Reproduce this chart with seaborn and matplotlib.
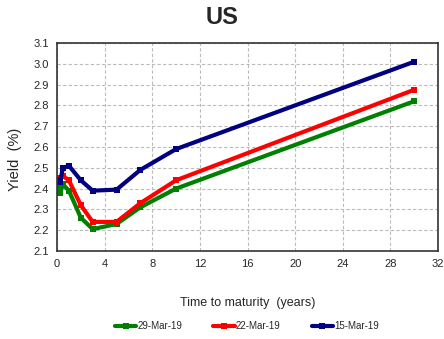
import matplotlib
matplotlib.use("Agg")
import matplotlib.pyplot as plt
import seaborn as sns
import pandas as pd

maturities = [1/12, 0.25, 0.5, 1, 2, 3, 5, 7, 10, 30]
y_29mar = [2.42, 2.38, 2.42, 2.39, 2.26, 2.205, 2.23, 2.31, 2.40, 2.82]
y_22mar = [2.45, 2.45, 2.46, 2.44, 2.32, 2.24, 2.24, 2.33, 2.44, 2.875]
y_15mar = [2.44, 2.43, 2.50, 2.51, 2.44, 2.39, 2.395, 2.49, 2.59, 3.01]
series_names = ["29-Mar-19", "22-Mar-19", "15-Mar-19"]
colors = ["#008000", "#ff0000", "#000080"]
xticks = [0, 4, 8, 12, 16, 20, 24, 28, 32]
yticks = [2.1, 2.2, 2.3, 2.4, 2.5, 2.6, 2.7, 2.8, 2.9, 3.0, 3.1]

rows = []
for name, vals in zip(series_names, [y_29mar, y_22mar, y_15mar]):
    for m, v in zip(maturities, vals):
        rows.append({"Maturity": m, "Yield": v, "Series": name})
df = pd.DataFrame(rows)

sns.set_style("white")
plt.rcParams["font.family"] = ["Liberation Sans", "DejaVu Sans"]

fig = plt.figure(figsize=(4.44, 3.39), dpi=100)
ax = fig.add_axes([57/444, 1 - 251/339, (438-57)/444, (251-43)/339])

sns.lineplot(data=df, x="Maturity", y="Yield", hue="Series", hue_order=series_names,
             palette=colors, marker="s", markersize=5, markeredgewidth=0,
             linewidth=3, ax=ax, legend=False)

ax.set_xlim(0, 32)
ax.set_ylim(2.1, 3.1)
ax.set_xticks(xticks)
ax.set_xticklabels([str(t) for t in xticks], fontsize=8)
ax.set_yticks(yticks)
ax.set_yticklabels([f"{t:.1f}" for t in yticks], fontsize=8)
ax.grid(True, linestyle=(0, (3, 2)), color="#bbbbbb", linewidth=0.8)
for s in ax.spines.values():
    s.set_color("#333333")
    s.set_linewidth(1.2)
ax.tick_params(axis="both", length=3, width=1, color="#333333", pad=3, direction="out")
ax.set_xlabel("Time to maturity  (years)", fontsize=9, labelpad=20)
ax.set_ylabel("Yield  (%)", fontsize=10.5, labelpad=6)
ax.yaxis.set_label_coords(-0.092, 0.44)
fig.text(0.5, 1 - 18/339, "US", ha="center", va="center", fontsize=17, fontweight="bold")

from matplotlib.lines import Line2D
handles = [Line2D([0], [0], color=c, lw=3, marker="s", markersize=5, markeredgewidth=0) for c in colors]
fig.legend(handles, series_names, loc="center", bbox_to_anchor=(0.556, 1 - 326/339), ncol=3,
           frameon=False, fontsize=7, handlelength=2.2, handletextpad=0.1, columnspacing=3.2)

fig.savefig("out.png", dpi=100)
